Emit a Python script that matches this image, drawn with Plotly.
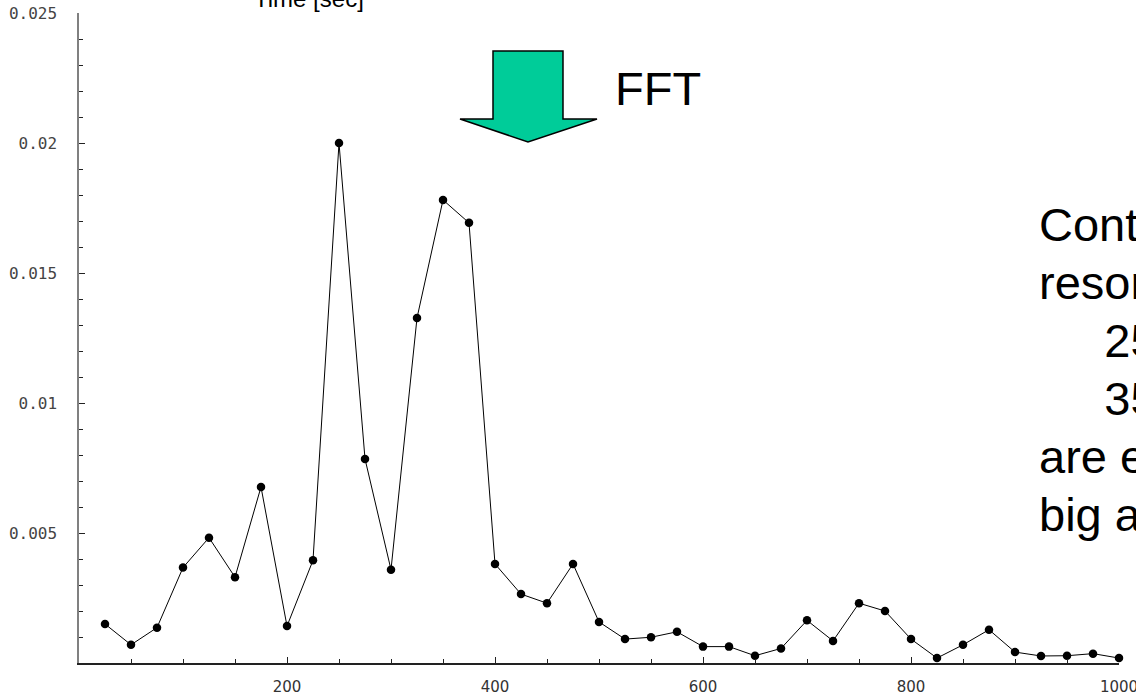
import plotly.graph_objects as go

# Spectrum of the signal after FFT (frequency in Hz, amplitude)
freq = [25, 50, 75, 100, 125, 150, 175, 200, 225, 250,
        275, 300, 325, 350, 375, 400, 425, 450, 475, 500,
        525, 550, 575, 600, 625, 650, 675, 700, 725, 750,
        775, 800, 825, 850, 875, 900, 925, 950, 975, 1000]
amp = [0.0015, 0.0007, 0.00136, 0.00367, 0.00482, 0.0033, 0.00677, 0.00142, 0.00395, 0.0200,
       0.00785, 0.00359, 0.01327, 0.01781, 0.01693, 0.00381, 0.00265, 0.0023, 0.00381, 0.00158,
       0.00092, 0.00099, 0.0012, 0.00063, 0.00063, 0.00028, 0.00056, 0.00164, 0.00085, 0.0023,
       0.002, 0.00092, 0.00019, 0.0007, 0.00128, 0.00042, 0.00027, 0.00028, 0.00036, 0.00019]

x_tick_vals = [200, 400, 600, 800, 1000]
x_tick_text = ["200", "400", "600", "800", "1000"]
y_tick_vals = [0.005, 0.01, 0.015, 0.02, 0.025]
y_tick_text = ["0.005", "0.01", "0.015", "0.02", "0.025"]

# Side note running off the right edge of the slide
note_lines = ["Cont", "reson",
              "\u00a0\u00a0\u00a0\u00a0\u00a025", "\u00a0\u00a0\u00a0\u00a0\u00a035",
              "are e", "big a"]

W, H = 1136, 698
ML, MR, MT, MB = 79, 17, 13, 35
PW, PH = W - ML - MR, H - MT - MB


def px(xp):
    return (xp - ML) / PW


def py(yp):
    return (H - MB - yp) / PH


fig = go.Figure()
fig.add_trace(go.Scatter(
    x=freq, y=amp, mode="lines+markers",
    line=dict(color="black", width=1),
    marker=dict(color="black", size=8.5),
    showlegend=False, cliponaxis=False,
))

# Down arrow with the FFT label
arrow_px = [(493, 51), (563, 51), (563, 119), (597, 119), (528, 142), (460, 119), (493, 119)]
path = "M " + " L ".join(f"{px(a):.5f},{py(b):.5f}" for a, b in arrow_px) + " Z"
fig.add_shape(type="path", path=path, xref="paper", yref="paper",
              fillcolor="#00CC99", line=dict(color="black", width=1.5), layer="above")

annotations = [
    dict(text="FFT", x=px(613), y=py(89), xref="paper", yref="paper",
         xanchor="left", yanchor="middle", showarrow=False,
         font=dict(family="Liberation Sans, Arial", size=47, color="black")),
    dict(text="Time [sec]", x=px(309), y=py(-2), xref="paper", yref="paper",
         xanchor="center", yanchor="middle", showarrow=False,
         font=dict(family="Liberation Sans, Arial", size=24, color="black")),
]
base0, step, fs = 241, 58, 47
for i, line in enumerate(note_lines):
    baseline = base0 + i * step
    annotations.append(dict(
        text=line, x=px(1037), y=py(baseline - 0.36 * fs), xref="paper", yref="paper",
        xanchor="left", yanchor="middle", showarrow=False,
        font=dict(family="Liberation Sans, Arial", size=fs, color="black")))

fig.update_layout(
    width=W, height=H,
    margin=dict(l=ML, r=MR, t=MT, b=MB, pad=0),
    paper_bgcolor="white", plot_bgcolor="white",
    annotations=annotations,
    xaxis=dict(
        range=[0, 1000], showgrid=False, zeroline=False, automargin=False,
        showline=True, linecolor="#222222", linewidth=1.5,
        tickmode="array", tickvals=x_tick_vals, ticktext=x_tick_text,
        ticks="inside", ticklen=6, tickwidth=1, tickcolor="#222222",
        ticklabelstandoff=9, ticklabeloverflow="allow",
        minor=dict(dtick=50, ticks="inside", ticklen=4, tickwidth=1, tickcolor="#222222", showgrid=False),
        tickfont=dict(family="DejaVu Sans", size=15, color="#333333"),
    ),
    yaxis=dict(
        range=[0, 0.025], showgrid=False, zeroline=False, automargin=False,
        showline=True, linecolor="#808080", linewidth=1.5,
        tickmode="array", tickvals=y_tick_vals, ticktext=y_tick_text,
        ticks="inside", ticklen=6, tickwidth=1, tickcolor="#222222",
        ticklabelstandoff=17, ticklabeloverflow="allow",
        minor=dict(dtick=0.001, ticks="inside", ticklen=4, tickwidth=1, tickcolor="#222222", showgrid=False),
        tickfont=dict(family="DejaVu Sans Mono", size=16, color="#444444"),
    ),
)

fig.write_html("out.html")
